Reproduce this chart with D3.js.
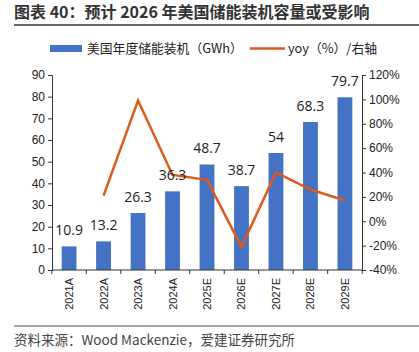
<!DOCTYPE html>
<html>
<head>
<meta charset="utf-8">
<script src="https://cdn.jsdelivr.net/npm/d3@7"></script>
<style>
  body { margin: 0; background: #fff; }
  svg { display: block; }
  .axis path, .axis line { stroke: #333; }
  .axis text { font-family: "Liberation Sans", Arial, sans-serif; font-size: 12px; fill: #222; }
</style>
</head>
<body>
<svg width="419" height="352"></svg>
<script>
// data
const years = ['2021A', '2022A', '2023A', '2024A', '2025E', '2026E', '2027E', '2028E', '2029E'];
const capacity = [10.9, 13.2, 26.3, 36.3, 48.7, 38.7, 54, 68.3, 79.7];
const yoy = [null, 21, 99, 38, 34, -21, 40, 26, 17];
const leftTicks = [0, 10, 20, 30, 40, 50, 60, 70, 80, 90];
const rightTicks = [-40, -20, 0, 20, 40, 60, 80, 100, 120];

const svg = d3.select('svg');
const cjk = '"Noto Sans CJK SC", "Noto Sans", sans-serif';

// title
svg.append('text')
  .attr('x', 14).attr('y', 18)
  .style('font-family', cjk).style('font-size', '16px').style('font-weight', 'bold')
  .attr('fill', '#333')
  .text('图表 40：预计 2026 年美国储能装机容量或受影响');
svg.append('line')
  .attr('x1', 14).attr('x2', 419).attr('y1', 25).attr('y2', 25)
  .attr('stroke', '#666').attr('stroke-width', 2);

// legend
svg.append('rect').attr('x', 50).attr('y', 45).attr('width', 32).attr('height', 7).attr('fill', '#4472C4');
svg.append('text').attr('x', 87).attr('y', 53)
  .style('font-family', cjk).style('font-size', '12.8px').attr('fill', '#222')
  .text('美国年度储能装机（GWh）');
svg.append('line').attr('x1', 250).attr('x2', 285).attr('y1', 48.5).attr('y2', 48.5)
  .attr('stroke', '#DD5A1F').attr('stroke-width', 2.5);
svg.append('text').attr('x', 288).attr('y', 53)
  .style('font-family', cjk).style('font-size', '12.8px').attr('fill', '#222')
  .text('yoy（%）/右轴');

const margin = {top: 75, left: 52, right: 57, bottom: 82},
    width = 419 - margin.left - margin.right,
    height = 352 - margin.top - margin.bottom;

const g = svg.append('g')
  .attr('transform', 'translate(' + margin.left + ',' + margin.top + ')');

const x = d3.scaleBand().domain(years).range([0, width]).paddingInner(0.57).paddingOuter(0.28);
const y = d3.scaleLinear().domain([0, 90]).range([height, 0]);
const y2 = d3.scaleLinear().domain([-40, 120]).range([height, 0]);

// bars
g.selectAll('.bar')
  .data(capacity)
  .enter()
  .append('rect')
  .attr('class', 'bar')
  .attr('x', (d, i) => x(years[i]))
  .attr('y', d => y(d))
  .attr('width', x.bandwidth())
  .attr('height', d => height - y(d))
  .attr('fill', '#4472C4');

// axes
g.append('g')
  .attr('class', 'axis')
  .call(d3.axisLeft(y).tickValues(leftTicks).tickSize(4).tickPadding(3));

g.append('g')
  .attr('class', 'axis')
  .attr('transform', 'translate(' + width + ',0)')
  .call(d3.axisRight(y2).tickValues(rightTicks).tickSize(4).tickPadding(3).tickFormat(d => d + '%'));

// x axis, ticks between categories
const xa = g.append('g').attr('class', 'axis').attr('transform', 'translate(0,' + height + ')');
xa.append('line').attr('x1', 0).attr('x2', width).attr('stroke', '#333');
const step = x.step();
const bounds = d3.range(years.length + 1).map(i => x(years[0]) - (step - x.bandwidth()) / 2 + i * step);
xa.selectAll('.xt').data(bounds).enter().append('line')
  .attr('x1', d => d).attr('x2', d => d).attr('y1', 0).attr('y2', 4).attr('stroke', '#333');
xa.selectAll('.xl').data(years).enter().append('text')
  .attr('transform', d => 'translate(' + (x(d) + x.bandwidth() / 2 + 4) + ',8) rotate(-90)')
  .attr('text-anchor', 'end')
  .style('font-size', '11px')
  .text(d => d);

// yoy line
const line = d3.line()
  .defined(d => d != null)
  .x((d, i) => x(years[i]) + x.bandwidth() / 2)
  .y(d => y2(d));

g.append('path')
  .datum(yoy)
  .attr('d', line)
  .attr('fill', 'none')
  .attr('stroke', '#DD5A1F')
  .attr('stroke-width', 2.5)
  .attr('stroke-linejoin', 'miter');

// labels
g.selectAll('.lbl')
  .data(capacity)
  .enter()
  .append('text')
  .attr('x', (d, i) => x(years[i]) + x.bandwidth() / 2)
  .attr('y', d => y(d) - 11)
  .attr('text-anchor', 'middle')
  .style('font-family', '"Open Sans", sans-serif')
  .style('font-size', '14px')
  .attr('fill', '#222')
  .text(d => d);

// footer
svg.append('line')
  .attr('x1', 14).attr('x2', 419).attr('y1', 326).attr('y2', 326)
  .attr('stroke', '#888').attr('stroke-width', 1.5);
svg.append('text')
  .attr('x', 14).attr('y', 345)
  .style('font-family', cjk).style('font-size', '13.5px').attr('fill', '#444')
  .text('资料来源：Wood Mackenzie，爱建证券研究所');
</script>
</body>
</html>
